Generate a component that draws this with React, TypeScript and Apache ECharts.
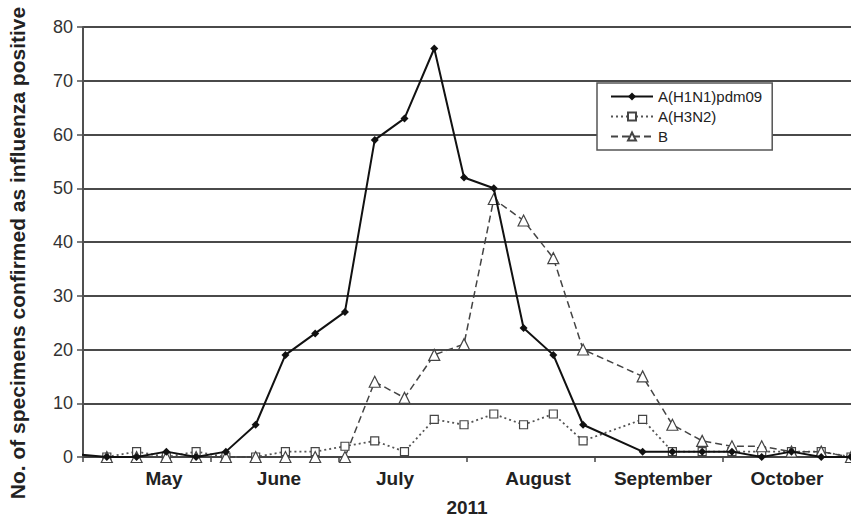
import React, { useEffect, useRef } from "react";
import * as echarts from "echarts";

// Week index of each specimen count (week 18 has no data)
const weeks = [1, 2, 3, 4, 5, 6, 7, 8, 9, 10, 11, 12, 13, 14, 15, 16, 17, 19, 20, 21, 22, 23, 24, 25, 26];
const h1n1 = [0, 0, 1, 0, 1, 6, 19, 23, 27, 59, 63, 76, 52, 50, 24, 19, 6, 1, 1, 1, 1, 0, 1, 0, 0];
const h3n2 = [0, 1, 0, 1, 0, 0, 1, 1, 2, 3, 1, 7, 6, 8, 6, 8, 3, 7, 1, 1, 1, 1, 1, 1, 0];
const fluB = [0, 0, 0, 0, 0, 0, 0, 0, 0, 14, 11, 19, 21, 48, 44, 37, 20, 15, 6, 3, 2, 2, 1, 1, 0];
// H1N1 line enters from a point before the axis start
const h1n1LeadIn = [-1, 1];

const months = ["May", "June", "July", "August", "September", "October"];
const seriesNames = ["A(H1N1)pdm09", "A(H3N2)", "B"];
const yearLabel = "2011";
const yTitle = "No. of specimens confirmed as influenza positive";
const yMin = 0;
const yMax = 80;
const yStep = 10;

const FONT = "'Liberation Sans', Arial, Helvetica, sans-serif";

const pairs = (vals: number[]) => weeks.map((w, i) => [w, vals[i]]);

export default function App() {
  const ref = useRef<HTMLDivElement>(null);

  useEffect(() => {
    if (!ref.current) return;
    const chart = echarts.init(ref.current, undefined, { renderer: "svg" });

    const monthText = { fontSize: 19, fontWeight: "bold" as const, color: "#222", fontFamily: FONT };
    const rich: Record<string, any> = {
      May: { ...monthText, padding: [0, 0, 0, 34] },
      June: { ...monthText, padding: [0, 0, 0, 8] },
      July: { ...monthText, padding: [0, 16, 0, 0] },
      August: { ...monthText, padding: [0, 0, 0, 14] },
      September: { ...monthText, padding: [0, 0, 0, 8] },
      October: { ...monthText },
    };

    chart.setOption({
      animation: false,
      backgroundColor: "#fff",
      textStyle: { fontFamily: FONT },
      grid: { left: 83, right: 0, top: 27, bottom: 60, containLabel: false, outerBoundsMode: "none" },
      xAxis: [
        { type: "value", min: 0.2, max: 26, show: false },
        {
          type: "category",
          data: months,
          position: "bottom",
          boundaryGap: true,
          axisLine: { show: true, lineStyle: { color: "#444", width: 2 } },
          axisTick: { show: true, alignWithLabel: false, length: 5, lineStyle: { color: "#444", width: 1.5 } },
          axisLabel: {
            interval: 0,
            margin: 12,
            ...monthText,
            formatter: (v: string) => `{${v}|${v}}`,
            rich,
          },
          splitLine: { show: false },
          name: yearLabel,
          nameLocation: "middle",
          nameGap: 41,
          nameTextStyle: { fontSize: 19, fontWeight: "bold", color: "#222", fontFamily: FONT },
        },
      ],
      yAxis: {
        type: "value",
        min: yMin,
        max: yMax,
        interval: yStep,
        axisLine: { show: true, lineStyle: { color: "#505050", width: 2 } },
        axisTick: { show: true, length: 6, lineStyle: { color: "#505050", width: 1.5 } },
        axisLabel: { fontSize: 18, color: "#333", margin: 10, fontFamily: FONT },
        splitLine: { show: true, lineStyle: { color: "#4a4a4a", width: 1.8 } },
        name: yTitle,
        nameLocation: "middle",
        nameRotate: 90,
        nameGap: 55,
        nameTextStyle: { fontSize: 21, fontWeight: "bold", color: "#222", fontFamily: FONT, padding: [0, 22, 0, 0] },
      },
      legend: {
        orient: "vertical",
        left: 597,
        top: 83,
        data: seriesNames,
        padding: [6, 10, 6, 13],
        itemGap: 5,
        itemWidth: 42,
        itemHeight: 10,
        backgroundColor: "#fff",
        borderColor: "#555",
        borderWidth: 1.5,
        borderRadius: 0,
        textStyle: { fontSize: 15, color: "#222", fontFamily: FONT },
      },
      series: [
        {
          name: seriesNames[0],
          type: "line",
          xAxisIndex: 0,
          clip: false,
          z: 4,
          symbol: "diamond",
          symbolSize: 8,
          itemStyle: { color: "#111" },
          lineStyle: { color: "#111", width: 2 },
          data: [{ value: h1n1LeadIn, symbol: "none" }, ...pairs(h1n1)],
        },
        {
          name: seriesNames[1],
          type: "line",
          xAxisIndex: 0,
          z: 3,
          symbol: "rect",
          symbolSize: 8,
          itemStyle: { color: "#fff", borderColor: "#444", borderWidth: 1.2 },
          lineStyle: { color: "#555", width: 1.8, type: [2, 3] },
          data: pairs(h3n2),
        },
        {
          name: seriesNames[2],
          type: "line",
          xAxisIndex: 0,
          clip: false,
          z: 3,
          symbol: "triangle",
          symbolSize: 11,
          itemStyle: { color: "#fff", borderColor: "#444", borderWidth: 1.2 },
          lineStyle: { color: "#444", width: 1.5, type: [7, 4] },
          data: pairs(fluB),
        },
      ],
    });

    return () => chart.dispose();
  }, []);

  return (
    <div
      ref={ref}
      style={{ position: "fixed", left: 0, top: 0, width: 851, height: 517, background: "#fff" }}
    />
  );
}
